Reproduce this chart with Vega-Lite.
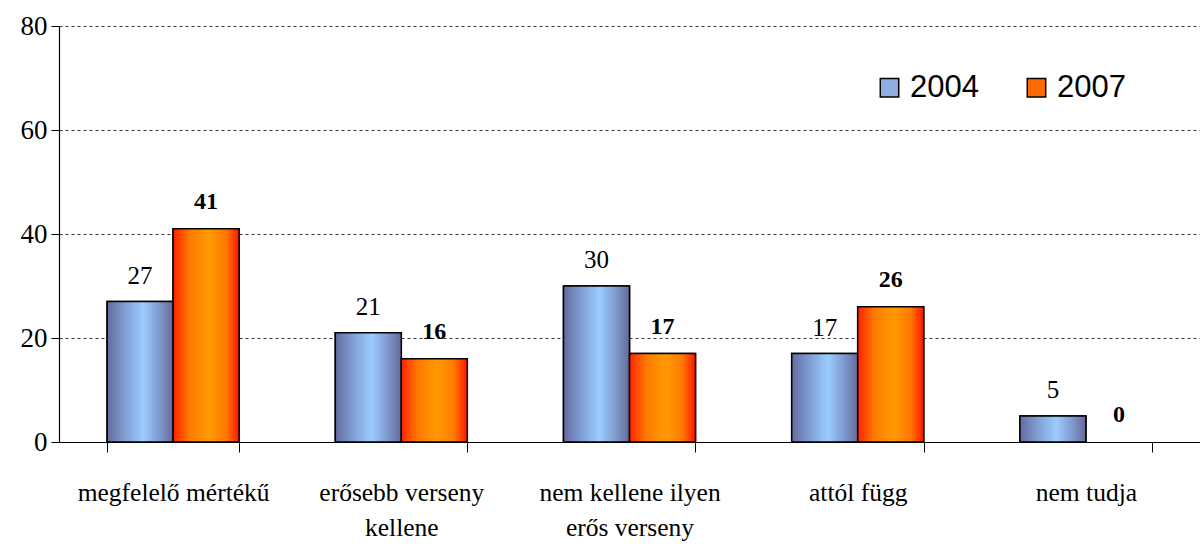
{
  "$schema": "https://vega.github.io/schema/vega-lite/v6.json",
  "autosize": {"type": "none"},
  "width": 1141,
  "height": 416,
  "padding": {"left": 59, "top": 26, "right": 0, "bottom": 105},
  "background": "white",
  "config": {"view": {"stroke": null}},
  "data": {
    "values": [
      {"cat": "megfelelő mértékű", "year": "2004", "value": 27},
      {"cat": "megfelelő mértékű", "year": "2007", "value": 41},
      {"cat": "erősebb verseny|kellene", "year": "2004", "value": 21},
      {"cat": "erősebb verseny|kellene", "year": "2007", "value": 16},
      {"cat": "nem kellene ilyen|erős verseny", "year": "2004", "value": 30},
      {"cat": "nem kellene ilyen|erős verseny", "year": "2007", "value": 17},
      {"cat": "attól függ", "year": "2004", "value": 17},
      {"cat": "attól függ", "year": "2007", "value": 26},
      {"cat": "nem tudja", "year": "2004", "value": 5},
      {"cat": "nem tudja", "year": "2007", "value": 0}
    ]
  },
  "encoding": {
    "x": {
      "field": "cat", "type": "nominal", "sort": null,
      "scale": {"paddingInner": 0.4216, "paddingOuter": 0.2108},
      "axis": {
        "title": null, "labelAngle": 0, "labelExpr": "split(datum.label, '|')",
        "labelFont": "'Liberation Serif', 'DejaVu Serif', serif", "labelFontSize": 25.5, "labelColor": "black",
        "labelLineHeight": 35, "labelPadding": 28, "labelBaseline": "top", "labelLimit": 400,
        "tickBand": "extent", "tickSize": 10, "tickColor": "black", "tickWidth": 1,
        "domainColor": "black", "domainWidth": 1.2, "grid": false
      }
    },
    "xOffset": {"field": "year", "type": "nominal", "scale": {"paddingInner": 0, "paddingOuter": 0}},
    "y": {
      "field": "value", "type": "quantitative",
      "scale": {"domain": [0, 80], "nice": false},
      "axis": {
        "title": null, "values": [0, 20, 40, 60, 80],
        "labelFont": "'Liberation Serif', 'DejaVu Serif', serif", "labelFontSize": 27, "labelColor": "black",
        "labelPadding": 4, "tickSize": 8, "tickColor": "black",
        "domainColor": "black", "domainWidth": 1.2,
        "grid": true, "gridColor": "black", "gridDash": [3, 3], "gridWidth": 0.8
      }
    }
  },
  "layer": [
    {
      "transform": [{"filter": "datum.value > 0"}],
      "mark": {"type": "bar", "stroke": "black", "strokeWidth": 1.5},
      "encoding": {
        "color": {
          "field": "year", "type": "nominal",
          "scale": {"domain": ["2004", "2007"], "range": ["#8FAEE0", "#FF6A00"]},
          "legend": {
            "title": null, "orient": "none", "direction": "horizontal",
            "legendX": 815, "legendY": 46,
            "symbolType": "square", "symbolSize": 340, "symbolStrokeColor": "black",
            "symbolStrokeWidth": 1.5, "symbolOpacity": 1,
            "labelFont": "Liberation Sans", "labelFontSize": 31, "labelColor": "black",
            "labelOffset": 5, "columnPadding": 42
          }
        }
      }
    },
    {
      "transform": [{"filter": "datum.value > 0"}],
      "mark": {"type": "bar", "stroke": "black", "strokeWidth": 1.5},
      "encoding": {
        "fill": {
          "condition": {
            "test": "datum.year == '2004'",
            "value": {
              "gradient": "linear", "x1": 0, "x2": 1, "y1": 0, "y2": 0,
              "stops": [
                {"offset": 0, "color": "#646A9E"},
                {"offset": 0.25, "color": "#7E9BD0"},
                {"offset": 0.55, "color": "#9CCCFF"},
                {"offset": 0.8, "color": "#7E98CC"},
                {"offset": 1, "color": "#646A9A"}
              ]
            }
          },
          "value": {
            "gradient": "linear", "x1": 0, "x2": 1, "y1": 0, "y2": 0,
            "stops": [
              {"offset": 0, "color": "#FF2200"},
              {"offset": 0.25, "color": "#FF7A00"},
              {"offset": 0.55, "color": "#FF9A00"},
              {"offset": 0.8, "color": "#FF7A00"},
              {"offset": 1, "color": "#FF1500"}
            ]
          }
        }
      }
    },
    {
      "transform": [{"filter": "datum.year == '2004'"}],
      "mark": {"type": "text", "font": "'Liberation Serif', 'DejaVu Serif', serif", "fontSize": 25, "dy": -18, "baseline": "alphabetic", "color": "black"},
      "encoding": {
        "text": {"field": "value", "type": "quantitative"}
      }
    },
    {
      "transform": [{"filter": "datum.year == '2007'"}],
      "mark": {"type": "text", "font": "'Liberation Serif', 'DejaVu Serif', serif", "fontSize": 24, "fontWeight": "bold", "dy": -20, "baseline": "alphabetic", "color": "black"},
      "encoding": {
        "text": {"field": "value", "type": "quantitative"}
      }
    }
  ]
}
